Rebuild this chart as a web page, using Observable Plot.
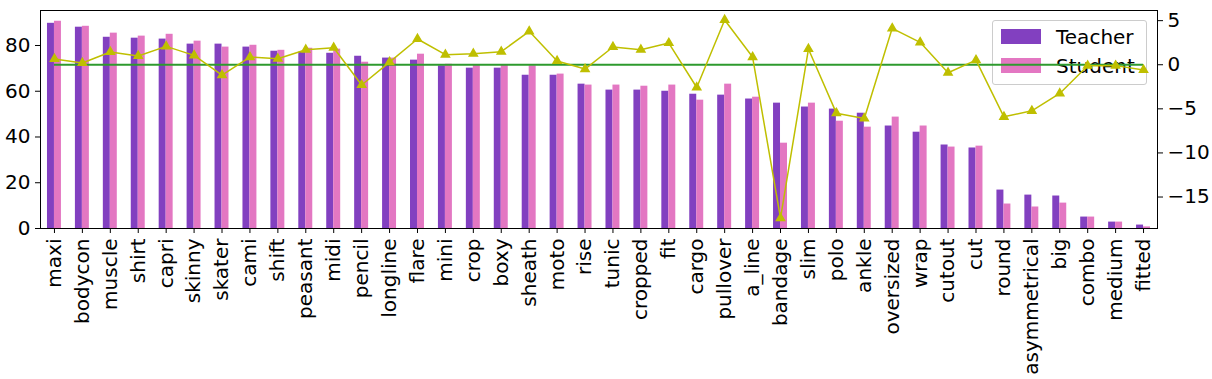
<!DOCTYPE html>
<html>
<head>
<meta charset="utf-8">
<script src="https://cdn.jsdelivr.net/npm/d3@7"></script>
<script src="https://cdn.jsdelivr.net/npm/@observablehq/plot@0.6"></script>
<style>
  html, body { margin: 0; padding: 0; background: #ffffff; }
  #wrap { position: relative; width: 1212px; height: 379px; font-family: "DejaVu Sans", sans-serif; }
  #legend { position: absolute; left: 992px; top: 20px; width: 153px; height: 63px;
            border: 1px solid #cccccc; border-radius: 3px; background: rgba(255,255,255,0.8); z-index: 0; }
  .item { position: absolute; left: 8px; height: 15px; width: 40px; }
  .lab { position: absolute; left: 63px; font-size: 20px; line-height: 20px; color: #000; }
  #chart { position: absolute; left: 0; top: 0; z-index: 1; }
  #chart svg { background: transparent; }
</style>
</head>
<body>
<div id="wrap">
  <div id="legend"></div>
  <div id="chart"></div>
</div>
<script>
const categories = ["maxi","bodycon","muscle","shirt","capri","skinny","skater","cami","shift","peasant",
  "midi","pencil","longline","flare","mini","crop","boxy","sheath","moto","rise",
  "tunic","cropped","fit","cargo","pullover","a_line","bandage","slim","polo","ankle",
  "oversized","wrap","cutout","cut","round","asymmetrical","big","combo","medium","fitted"];

const teacher = [89.7, 88.0, 83.6, 83.2, 82.8, 80.6, 80.6, 79.3, 77.5, 77.1,
  76.6, 75.3, 74.5, 73.6, 71.1, 70.1, 70.1, 67.0, 67.0, 63.1,
  60.5, 60.5, 60.0, 58.7, 58.3, 56.6, 54.8, 53.1, 52.2, 50.4,
  44.8, 42.1, 36.5, 35.2, 16.8, 14.6, 14.2, 5.0, 2.8, 1.5];

const student = [90.6, 88.4, 85.4, 84.1, 84.9, 81.9, 79.3, 80.1, 77.9, 78.8,
  78.4, 72.7, 74.5, 76.2, 71.8, 71.4, 71.4, 71.1, 67.5, 62.7,
  62.7, 62.2, 62.7, 56.1, 63.1, 57.4, 37.3, 54.8, 46.9, 44.3,
  48.7, 44.8, 35.6, 36.0, 10.7, 9.4, 11.1, 5.0, 2.8, 0.7];

const delta = [0.65, 0.2, 1.44, 0.99, 2.08, 1.06, -1.17, 0.87, 0.68, 1.7,
  1.93, -2.3, 0.3, 2.92, 1.14, 1.25, 1.48, 3.79, 0.42, -0.49,
  2.01, 1.70, 2.46, -2.58, 5.08, 0.87, -17.4, 1.78, -5.49, -6.10,
  4.13, 2.54, -0.91, 0.53, -5.91, -5.23, -3.26, -0.11, -0.1, -0.6];

const seriesNames = ["Teacher", "Student"];
const seriesColors = ["#8240c0", "#e377c2"];
const leftTicks = [0, 20, 40, 60, 80];
const rightTicks = [-15, -10, -5, 0, 5];

const leftDomain = [0, 95.3];
const rightDomain = [-18.57, 6.15];
const toLeft = v => (v - rightDomain[0]) / (rightDomain[1] - rightDomain[0]) * (leftDomain[1] - leftDomain[0]) + leftDomain[0];
const fromLeft = v => (v - leftDomain[0]) / (leftDomain[1] - leftDomain[0]) * (rightDomain[1] - rightDomain[0]) + rightDomain[0];

const rows = categories.map((c, i) => ({i, c, teacher: teacher[i], student: student[i], delta: delta[i]}));
const fmt = v => { const r = Math.round(v); return r < 0 ? "\u2212" + (-r) : String(r); };

const chart = Plot.plot({
  width: 1212, height: 379,
  marginTop: 10, marginBottom: 151, marginLeft: 40, marginRight: 55,
  style: {fontFamily: "DejaVu Sans", fontSize: "20px", background: "transparent", color: "black"},
  x: {type: "linear", domain: [-0.5, categories.length - 0.5], axis: null, label: null},
  y: {domain: leftDomain, axis: null, label: null},
  marks: [
    Plot.rectY(rows, {x1: d => d.i - 0.25, x2: d => d.i, y: "teacher", fill: seriesColors[0]}),
    Plot.rectY(rows, {x1: d => d.i, x2: d => d.i + 0.25, y: "student", fill: seriesColors[1]}),
    Plot.axisX(rows.map(d => d.i), {tickFormat: i => categories[i], tickRotate: -90, tickSize: 5, tickPadding: 5, fontSize: 20, label: null}),
    Plot.axisY(leftTicks, {anchor: "left", tickSize: 5, tickPadding: 5, fontSize: 20, label: null}),
    Plot.axisY(rightTicks.map(toLeft), {anchor: "right", tickSize: 5, tickPadding: 5, fontSize: 20, label: null, tickFormat: v => fmt(fromLeft(v))}),
    Plot.ruleY([toLeft(0)], {x1: 0, x2: categories.length - 1, stroke: "#2e9a2e", strokeWidth: 2}),
    Plot.line(rows, {x: "i", y: d => toLeft(d.delta), stroke: "#bfbf00", strokeWidth: 1.5}),
    Plot.dot(rows, {x: "i", y: d => toLeft(d.delta), symbol: "triangle", r: 3, fill: "#bfbf00", stroke: "#bfbf00"}),
    Plot.frame({stroke: "black"})
  ]
});
document.getElementById("chart").appendChild(chart);

const legend = document.getElementById("legend");
seriesNames.forEach((name, k) => {
  const sw = document.createElement("div");
  sw.className = "item";
  sw.style.top = (8 + k * 29) + "px";
  sw.style.background = seriesColors[k];
  legend.appendChild(sw);
  const lab = document.createElement("div");
  lab.className = "lab";
  lab.style.top = (6 + k * 29) + "px";
  lab.textContent = name;
  legend.appendChild(lab);
});
</script>
</body>
</html>
